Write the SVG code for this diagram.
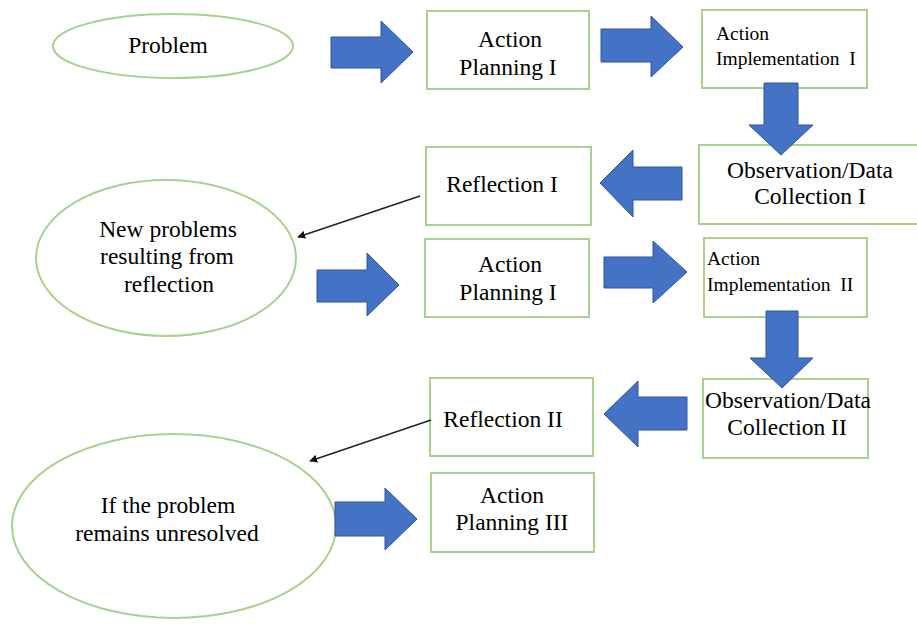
<svg xmlns="http://www.w3.org/2000/svg" width="917" height="624" viewBox="0 0 917 624">
<style>
.n{fill:#fff;stroke:#A9D18E;stroke-width:2}
.t{font-family:'Liberation Serif','Times New Roman',serif;font-size:23.5px;fill:#000}
.s{font-size:19.5px}
.c{text-anchor:middle}
.blk{fill:#4472C4;stroke:#2F5597;stroke-width:1}
.ln{stroke:#222;stroke-width:1.5;fill:none;marker-end:url(#ah)}
</style>
<defs>
<marker id="ah" viewBox="0 0 10 10" refX="9" refY="5" markerWidth="8" markerHeight="8" markerUnits="userSpaceOnUse" orient="auto"><path d="M0,0L10,5L0,10z" fill="#111"/></marker>
</defs>
<rect width="917" height="624" fill="#fff"/>
<g id="problem"><ellipse class="n" cx="173" cy="46" rx="120" ry="32"/><text class="t c" x="168" y="53">Problem</text></g>
<g id="ap1"><rect class="n" x="427" y="11" width="162" height="78"/><text class="t c" x="510" y="47">Action</text><text class="t c" x="508" y="75">Planning I</text></g>
<g id="ai1"><rect class="n" x="702" y="10" width="165" height="78"/><text class="t s" x="716" y="40">Action</text><text class="t s" x="716" y="65" xml:space="preserve">Implementation  I</text></g>
<g id="obs1"><rect class="n" x="699" y="145" width="222" height="79"/><text class="t c" x="810" y="178">Observation/Data</text><text class="t c" x="810" y="204">Collection I</text></g>
<g id="ref1"><rect class="n" x="426" y="147" width="165" height="78"/><text class="t c" x="502" y="192">Reflection I</text></g>
<g id="newprob"><ellipse class="n" cx="166" cy="258" rx="130" ry="78"/><text class="t c" x="168" y="237">New problems</text><text class="t c" x="167" y="264">resulting from</text><text class="t c" x="169" y="292">reflection</text></g>
<g id="ap2"><rect class="n" x="425" y="239" width="164" height="78"/><text class="t c" x="510" y="272">Action</text><text class="t c" x="508" y="300">Planning I</text></g>
<g id="ai2"><rect class="n" x="704" y="238" width="163" height="79"/><text class="t s" x="707" y="265">Action</text><text class="t s" x="707" y="291" xml:space="preserve">Implementation  II</text></g>
<g id="obs2"><rect class="n" x="703" y="379" width="165" height="79"/><text class="t c" x="788" y="408">Observation/Data</text><text class="t c" x="787" y="435">Collection II</text></g>
<g id="ref2"><rect class="n" x="430" y="378" width="163" height="78"/><text class="t c" x="503" y="427">Reflection II</text></g>
<g id="unres"><ellipse class="n" cx="174" cy="526" rx="162" ry="92"/><text class="t c" x="168" y="513">If the problem</text><text class="t c" x="167" y="541">remains unresolved</text></g>
<g id="ap3"><rect class="n" x="431" y="473" width="163" height="79"/><text class="t c" x="512" y="503">Action</text><text class="t c" x="512" y="530">Planning III</text></g>
<g id="connectors">
<polygon class="blk" points="331,37 381,37 381,21 413,52 381,83 381,68 331,68"/>
<polygon class="blk" points="601,29 651,29 651,16 683,47 651,77 651,62 601,62"/>
<polygon class="blk" points="764,83 798,83 798,125 813,125 781,155 749,125 764,125"/>
<polygon class="blk" points="682,167 633,167 633,150 600,183 633,217 633,200 682,200"/>
<polygon class="blk" points="317,270 367,270 367,253 399,285 367,316 367,302 317,302"/>
<polygon class="blk" points="604,257 653,257 653,241 687,272 653,303 653,288 604,288"/>
<polygon class="blk" points="766,311 798,311 798,358 813,358 782,388 750,358 766,358"/>
<polygon class="blk" points="687,397 638,397 638,381 604,414 638,447 638,430 687,430"/>
<polygon class="blk" points="335,502 385,502 385,488 417,519 385,550 385,536 335,536"/>
<line class="ln" x1="420" y1="196" x2="298" y2="237"/>
<line class="ln" x1="431" y1="420" x2="310" y2="461"/>
</g>
</svg>
